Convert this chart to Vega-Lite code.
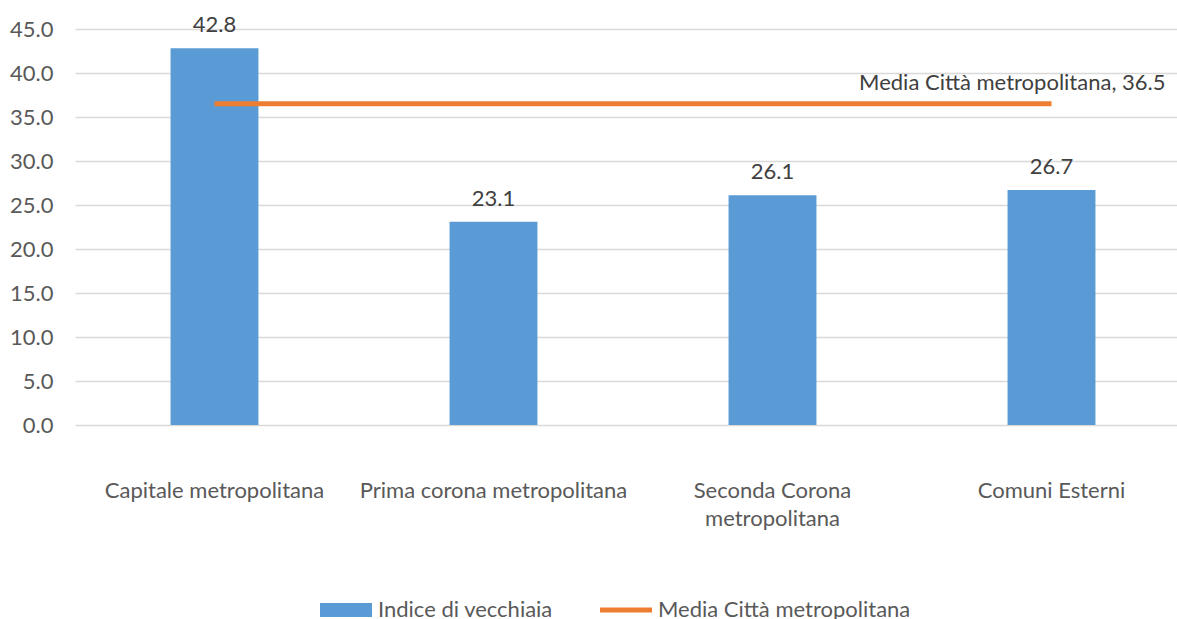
{
  "$schema": "https://vega.github.io/schema/vega-lite/v6.json",
  "width": 1116,
  "height": 396,
  "autosize": {"type": "none"},
  "padding": {"left": 75, "top": 29, "right": 0, "bottom": 194},
  "background": "white",
  "config": {
    "view": {"stroke": null},
    "font": "Lato",
    "text": {"font": "Lato", "fontSize": 22, "color": "#404040"},
    "axis": {"labelFont": "Lato", "labelColor": "#595959", "labelFontSize": 22, "labelLimit": 0},
    "legend": {"labelFont": "Lato", "labelColor": "#595959", "labelFontSize": 22, "labelLimit": 0}
  },
  "data": {
    "values": [
      {"area": "Capitale metropolitana", "serie": "Indice di vecchiaia", "valore": 42.8},
      {"area": "Prima corona metropolitana", "serie": "Indice di vecchiaia", "valore": 23.1},
      {"area": "Seconda Corona metropolitana", "serie": "Indice di vecchiaia", "valore": 26.1},
      {"area": "Comuni Esterni", "serie": "Indice di vecchiaia", "valore": 26.7},
      {"area": "Capitale metropolitana", "serie": "Media Città metropolitana", "valore": 36.5},
      {"area": "Prima corona metropolitana", "serie": "Media Città metropolitana", "valore": 36.5},
      {"area": "Seconda Corona metropolitana", "serie": "Media Città metropolitana", "valore": 36.5},
      {"area": "Comuni Esterni", "serie": "Media Città metropolitana", "valore": 36.5}
    ]
  },
  "encoding": {
    "x": {
      "field": "area",
      "type": "nominal",
      "sort": null,
      "title": null,
      "scale": {"paddingInner": 0.685, "paddingOuter": 0.3425},
      "axis": {
        "labelAngle": 0,
        "ticks": false,
        "domain": false,
        "labelPadding": 55,
        "labelLineHeight": 28,
        "labelExpr": "datum.label == 'Seconda Corona metropolitana' ? ['Seconda Corona', 'metropolitana'] : datum.label"
      }
    },
    "y": {
      "field": "valore",
      "type": "quantitative",
      "title": null,
      "scale": {"domain": [0, 45], "nice": false},
      "axis": {
        "values": [0, 5, 10, 15, 20, 25, 30, 35, 40, 45],
        "format": ".1f",
        "ticks": false,
        "domain": false,
        "labelPadding": 22,
        "gridColor": "#d9d9d9",
        "gridWidth": 1.5
      }
    }
  },
  "layer": [
    {
      "transform": [{"filter": "datum.serie == 'Indice di vecchiaia'"}],
      "mark": {"type": "bar", "fill": "#5B9BD5"},
      "encoding": {
        "color": {
          "field": "serie",
          "type": "nominal",
          "scale": {"domain": ["Indice di vecchiaia", "Media Città metropolitana"], "range": ["#5B9BD5", "#ED7D31"]},
          "legend": {
            "title": null,
            "orient": "none",
            "direction": "horizontal",
            "legendX": 245,
            "legendY": 555,
            "symbolSize": 2704,
            "symbolStrokeWidth": 0,
            "labelOffset": 6,
            "columnPadding": 47,
            "encode": {
              "symbols": {
                "update": {
                  "shape": {"signal": "datum.value == 'Indice di vecchiaia' ? 'M-1,-0.27H1V0.27H-1Z' : 'M-1,-0.1H1V0.1H-1Z'"},
                  "fill": {"signal": "datum.value == 'Indice di vecchiaia' ? '#5B9BD5' : '#ED7D31'"},
                  "strokeWidth": {"value": 0}
                }
              }
            }
          }
        }
      }
    },
    {
      "transform": [{"filter": "datum.serie == 'Indice di vecchiaia'"}],
      "mark": {"type": "text", "baseline": "alphabetic", "dy": -16, "fontSize": 22, "color": "#404040"},
      "encoding": {"text": {"field": "valore", "type": "quantitative", "format": ".1f"}}
    },
    {
      "transform": [{"filter": "datum.serie == 'Media Città metropolitana'"}],
      "mark": {"type": "line", "strokeWidth": 5, "stroke": "#ED7D31"},
      "encoding": {"color": {"field": "serie", "type": "nominal"}}
    },
    {
      "transform": [{"filter": "datum.serie == 'Media Città metropolitana' && datum.area == 'Comuni Esterni'"}],
      "mark": {"type": "text", "align": "right", "baseline": "middle", "dx": 114, "dy": -21, "fontSize": 22, "color": "#404040"},
      "encoding": {"text": {"value": "Media Città metropolitana, 36.5"}}
    }
  ]
}
